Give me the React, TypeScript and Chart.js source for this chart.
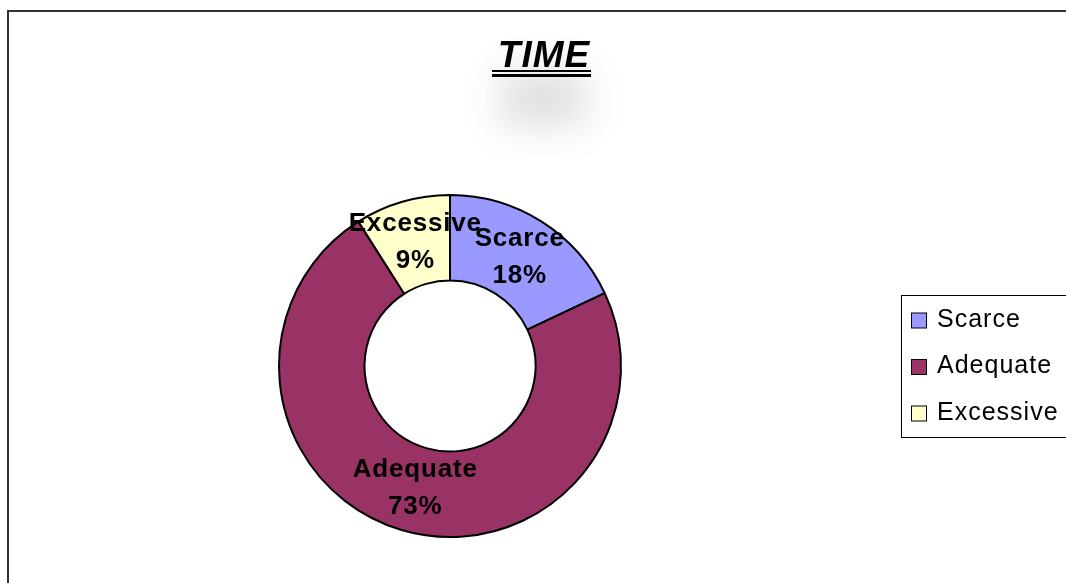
import React, { useEffect, useRef } from "react";
import { Chart, registerables } from "chart.js";

Chart.register(...registerables);

const categories = ["Scarce", "Adequate", "Excessive"];
const values = [18, 73, 9];
const colors = ["#9999FF", "#993366", "#FFFFCC"];
const titleText = "TIME";

const FONT = "'Liberation Sans', Arial, sans-serif";

const titlePlugin = {
  id: "titlePlugin",
  beforeDraw(chart: any) {
    const ctx = chart.ctx as CanvasRenderingContext2D;
    ctx.save();
    (ctx as any).filter = "blur(18px)";
    ctx.fillStyle = "rgba(0,0,0,0.12)";
    ctx.fillRect(500, 70, 86, 56);
    (ctx as any).filter = "none";
    ctx.restore();
  },
  afterDraw(chart: any) {
    const ctx = chart.ctx as CanvasRenderingContext2D;
    ctx.save();
    ctx.font = `italic bold 37px ${FONT}`;
    ctx.fillStyle = "#000";
    ctx.textAlign = "center";
    ctx.textBaseline = "alphabetic";
    (ctx as any).letterSpacing = "1px";
    ctx.fillText(titleText, 544, 67);
    ctx.fillRect(492, 70, 99, 2);
    ctx.fillRect(492, 74, 99, 3);
    ctx.restore();
  },
};

const labelPlugin = {
  id: "labelPlugin",
  afterDatasetsDraw(chart: any) {
    const ctx = chart.ctx as CanvasRenderingContext2D;
    const meta = chart.getDatasetMeta(0);
    const data = chart.data.datasets[0].data as number[];
    const total = data.reduce((a, b) => a + b, 0);
    ctx.save();
    ctx.font = `bold 26px ${FONT}`;
    ctx.fillStyle = "#000";
    ctx.textAlign = "center";
    ctx.textBaseline = "middle";
    (ctx as any).letterSpacing = "0.8px";
    meta.data.forEach((arc: any, i: number) => {
      const p = arc.tooltipPosition(false);
      const pct = Math.round((data[i] / total) * 100) + "%";
      ctx.fillText(String(chart.data.labels[i]), p.x + 1, p.y - 19);
      ctx.fillText(pct, p.x + 1, p.y + 18);
    });
    ctx.restore();
  },
};

const legendPlugin = {
  id: "legendPlugin",
  afterDraw(chart: any) {
    const ctx = chart.ctx as CanvasRenderingContext2D;
    const ds = chart.data.datasets[0];
    ctx.save();
    ctx.strokeStyle = "#000";
    ctx.lineWidth = 1;
    ctx.fillStyle = "#fff";
    ctx.fillRect(901.5, 295.5, 220, 142);
    ctx.strokeRect(901.5, 295.5, 220, 142);
    ctx.font = `25px ${FONT}`;
    ctx.textBaseline = "middle";
    ctx.textAlign = "left";
    (ctx as any).letterSpacing = "1px";
    chart.data.labels.forEach((lab: string, i: number) => {
      const cy = 320 + i * 46.5;
      ctx.fillStyle = ds.backgroundColor[i];
      ctx.fillRect(911.5, cy - 7, 15, 15);
      ctx.strokeRect(911.5, cy - 7, 15, 15);
      ctx.fillStyle = "#000";
      ctx.fillText(lab, 937, cy);
    });
    ctx.restore();
  },
};

export default function App() {
  const ref = useRef<HTMLCanvasElement>(null);
  useEffect(() => {
    if (!ref.current) return;
    const chart = new Chart(ref.current, {
      type: "doughnut",
      data: {
        labels: categories,
        datasets: [
          {
            data: values,
            backgroundColor: colors,
            borderColor: "#000",
            borderWidth: 2,
          },
        ],
      },
      options: {
        animation: false,
        responsive: false,
        cutout: "50%",
        layout: { padding: { left: 278, right: 444, top: 194, bottom: 45 } },
        plugins: {
          legend: { display: false },
          tooltip: { enabled: false },
          title: { display: false },
        },
      },
      plugins: [titlePlugin, labelPlugin, legendPlugin],
    });
    return () => chart.destroy();
  }, []);
  return (
    <div
      style={{
        position: "fixed",
        left: 0,
        top: 0,
        width: 1066,
        height: 583,
        background: "#fff",
        overflow: "hidden",
      }}
    >
      <div
        style={{
          position: "absolute",
          left: 7,
          top: 10,
          width: 2000,
          height: 2000,
          borderLeft: "2px solid #333",
          borderTop: "2px solid #333",
        }}
      />
      <canvas
        ref={ref}
        width={1066}
        height={583}
        style={{ position: "absolute", left: 0, top: 0, width: 1066, height: 583 }}
      />
    </div>
  );
}
